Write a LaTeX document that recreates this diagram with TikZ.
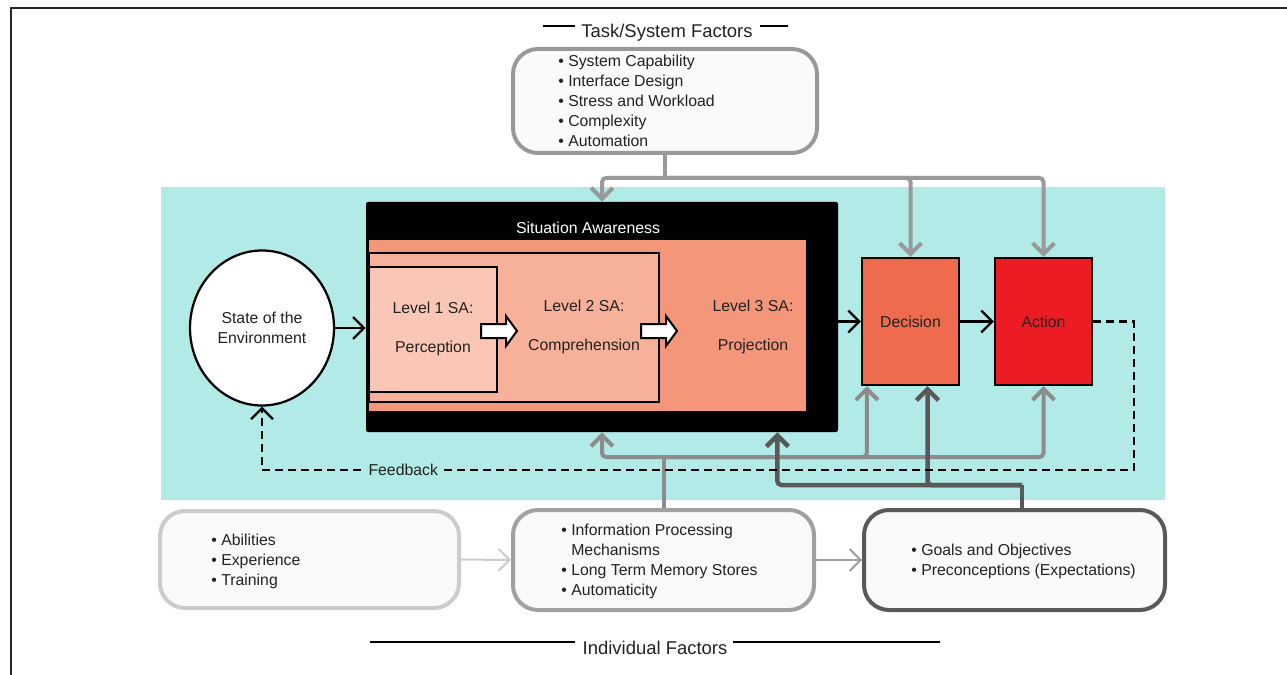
\documentclass[tikz,border=0pt]{standalone}
\usepackage{fontspec}
\setmainfont{Liberation Sans}
\usepackage{tikz}
\usetikzlibrary{arrows.meta,shapes.geometric,fit,positioning}

\definecolor{sabg}{RGB}{178,234,231}
\definecolor{lvlone}{RGB}{250,199,183}
\definecolor{lvltwo}{RGB}{247,176,153}
\definecolor{lvlthree}{RGB}{244,150,121}
\definecolor{decfill}{RGB}{238,108,77}
\definecolor{actfill}{RGB}{237,28,36}
\definecolor{taskgray}{RGB}{153,153,153}
\definecolor{indgray}{RGB}{140,140,140}
\definecolor{goalgray}{RGB}{89,89,89}
\definecolor{abilgray}{RGB}{204,204,204}
\definecolor{ipmgray}{RGB}{160,160,160}
\definecolor{txt}{RGB}{34,34,34}

\begin{document}
\begin{tikzpicture}[x=0.2mm, y=-0.2mm,
	every node/.style={font=\fontsize{9}{11.4}\selectfont, text=txt},
	title/.style={font=\fontsize{10.5}{12}\selectfont},
	rule/.style={line width=0.3mm, black},
	factor/.style={draw, line width=0.8mm, rounded corners=5mm, fill=black!2, inner sep=0pt},
	items/.style={anchor=west, align=left, inner sep=0pt},
	lvlbox/.style={draw, line width=0.45mm, inner sep=0pt},
	stagebox/.style={draw, line width=0.45mm, inner sep=0pt},
	barb/.style={-{Straight Barb[length=2.2mm,width=4.4mm]}},
	flow/.style={barb, line width=0.45mm},
	blockarrow/.style={draw, fill=white, line width=0.4mm, line join=miter},
	taskline/.style={line width=0.8mm, taskgray, rounded corners=0.8mm},
	indline/.style={line width=0.8mm, indgray, rounded corners=0.8mm},
	goalline/.style={line width=0.9mm, goalgray, rounded corners=0.8mm},
	feedback/.style={barb, line width=0.45mm, dash pattern=on 1.6mm off 1mm},
	]
	\useasboundingbox (0,0) rectangle (1287,675);
	\draw[line width=0.4mm, black!85] (11,675) -- (11,8) -- (1287,8);
	\fill[sabg] (161,187) rectangle (1165,500);

	\node[title] (tasktitle) at (667,33) {Task/System Factors};
	\draw[rule] (543,26) -- (575,26);
	\draw[rule] (760,26) -- (788,26);
	\node[factor, draw=taskgray, fit={(513,49) (817,153)}] (task) {};
	\node[items] (tasklist) at (558,101) {\textbullet\ System Capability\\\textbullet\ Interface Design\\\textbullet\ Stress and Workload\\\textbullet\ Complexity\\\textbullet\ Automation};

	\node[fill=black, rounded corners=0.4mm, inner sep=0pt, fit={(366,202) (838,432)}] (sa) {};
	\node[text=white] (satitle) at (588,228) {Situation Awareness};
	\node[fill=lvlthree, inner sep=0pt, fit={(369,240) (806,411)}] (lvl3) {};
	\node[lvlbox, fill=lvltwo, fit={(369,253) (659,402)}] (lvl2) {};
	\node[lvlbox, fill=lvlone, fit={(369,267) (497,392)}] (lvl1) {};
	\node[align=center] (lvl1text) at (433,329) {Level 1 SA:\\[11pt]Perception};
	\node[align=center] (lvl2text) at (584,327) {Level 2 SA:\\[11pt]Comprehension};
	\node[align=center] (lvl3text) at (753,327) {Level 3 SA:\\[11pt]Projection};
	\foreach \bx in {481,641}
		\draw[blockarrow] (\bx,324) -- ++(25,0) -- ++(0,-8) -- ++(11,15) -- ++(-11,15) -- ++(0,-8) -- ++(-25,0) -- cycle;

	\node[ellipse, draw, line width=0.45mm, fill=white, minimum width=28.8mm, minimum height=31mm, align=center] (env) at (262,328) {State of the\\Environment};
	\node[stagebox, fill=decfill, fit={(862,258) (959,385)}] (dec) {};
	\node (dectext) at (dec.center) {Decision};
	\node[stagebox, fill=actfill, fit={(995,258) (1092,385)}] (act) {};
	\node (acttext) at (act.center) {Action};

	\node[factor, draw=abilgray, fit={(160,511) (459,608)}] (abil) {};
	\node[items] (abillist) at (211,561) {\textbullet\ Abilities\\\textbullet\ Experience\\\textbullet\ Training};
	\node[factor, draw=ipmgray, fit={(513,510) (814,610)}] (ipm) {};
	\node[items] (ipmlist) at (561,561) {\textbullet\ Information Processing\\\phantom{\textbullet\ }Mechanisms\\\textbullet\ Long Term Memory Stores\\\textbullet\ Automaticity};
	\node[factor, draw=goalgray, fit={(864,510) (1165,610)}] (goals) {};
	\node[items] (goallist) at (911,561) {\textbullet\ Goals and Objectives\\\textbullet\ Preconceptions (Expectations)};

	\node[title] (indtitle) at (655,648) {Individual Factors};
	\draw[rule] (370,642) -- (575,642);
	\draw[rule] (733,642) -- (940,642);

	\draw[flow] (env.east) -- (env.east -| sa.west);
	\draw[flow] (dec.west -| sa.east) -- (dec.west);
	\draw[flow] (dec) -- (act);

	\draw[taskline] (task.south) -- ++(0,23) coordinate (tasksplit);
	\draw[taskline, barb] (tasksplit) -| (sa.north);
	\draw[taskline, barb] (tasksplit) -| (dec.north);
	\draw[taskline, barb] (tasksplit) -| (act.north);

	\draw[indline] (ipm.north) -- ++(0,-51) coordinate (indsplit);
	\draw[indline, barb] (indsplit) -| (sa.south);
	\draw[indline, barb] (indsplit) -| ([xshift=1.2mm]dec.south west);
	\draw[indline, barb] (indsplit) -| (act.south);

	\draw[goalline] ([xshift=1.5mm]goals.north) -- ++(0,-23) coordinate (goalsplit);
	\draw[goalline, barb] (goalsplit) -| ([xshift=-12.2mm]sa.south east);
	\draw[goalline, barb] (goalsplit) -| ([xshift=3.4mm]dec.south);

	\coordinate (fbturn) at (1134,470);
	\draw[feedback] (act.east) -| (fbturn) -| node[pos=0.419, fill=sabg, inner xsep=1mm, inner ysep=0.5mm] (fblabel) {Feedback} (env.south);

	\draw[line width=0.4mm, abilgray, barb] (abil) -- (ipm);
	\draw[line width=0.4mm, ipmgray, barb] (ipm) -- (goals);
\end{tikzpicture}
\end{document}
